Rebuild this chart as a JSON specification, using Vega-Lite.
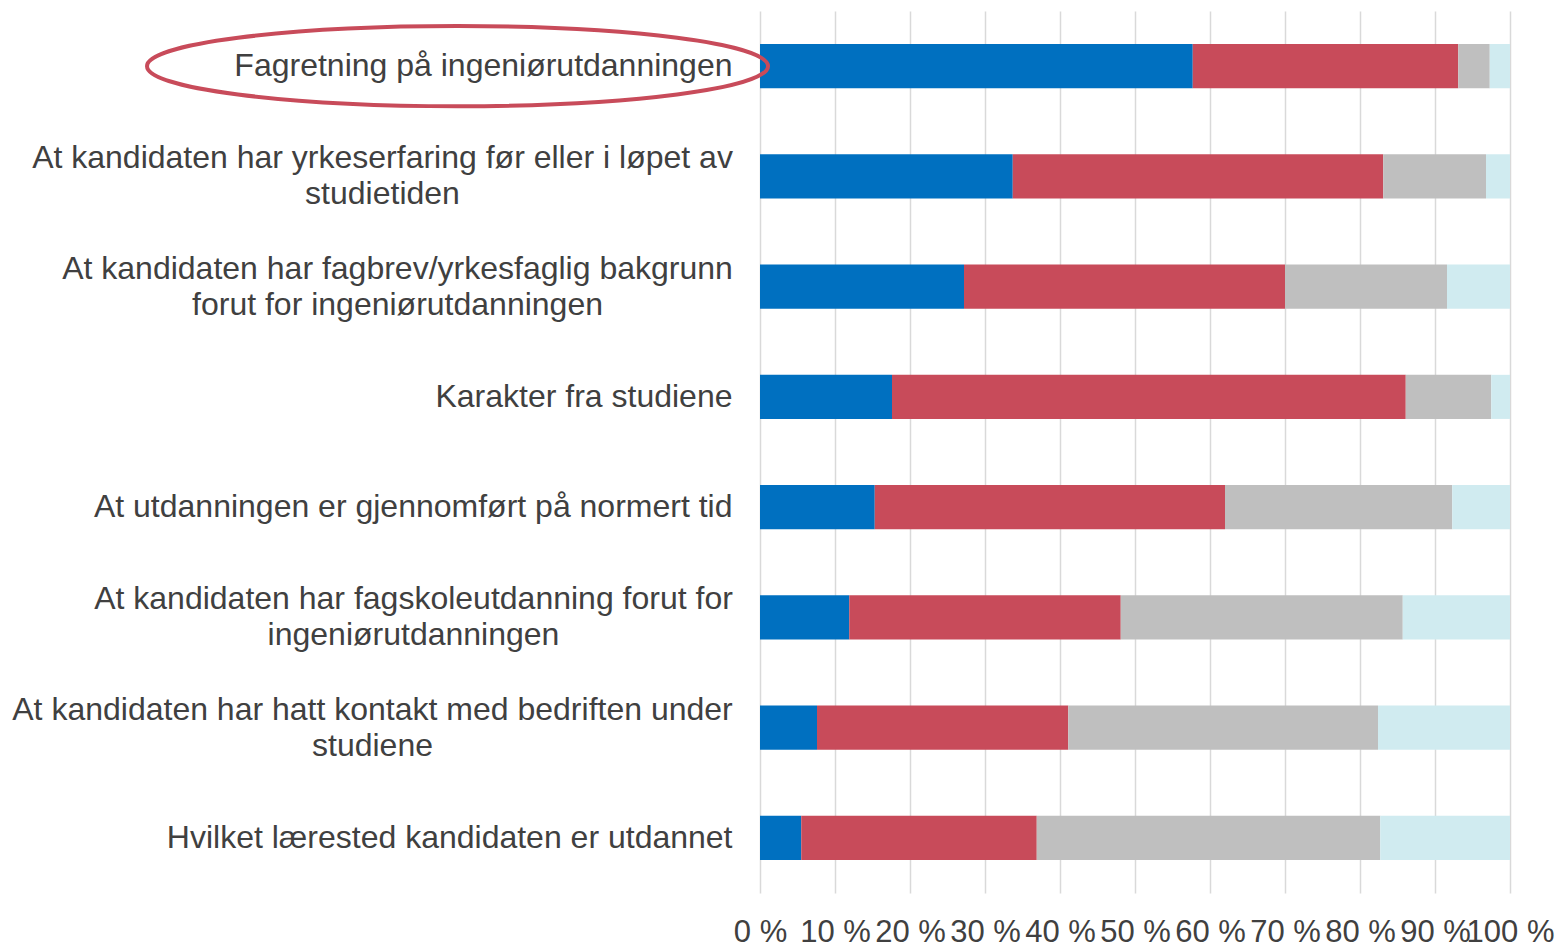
{
  "$schema": "https://vega.github.io/schema/vega-lite/v6.json",
  "width": 750,
  "height": 882,
  "autosize": {"type": "none"},
  "padding": {"left": 760, "top": 11, "right": 49, "bottom": 54},
  "background": "white",
  "config": {
    "view": {"stroke": null},
    "font": "Liberation Sans",
    "axis": {"labelFont": "Liberation Sans", "labelColor": "#404040"}
  },
  "data": {
    "values": [
      {"cat": "Fagretning på ingeniørutdanningen", "seg": "A", "o": 1, "v": 57.7},
      {"cat": "Fagretning på ingeniørutdanningen", "seg": "B", "o": 2, "v": 35.4},
      {"cat": "Fagretning på ingeniørutdanningen", "seg": "C", "o": 3, "v": 4.2},
      {"cat": "Fagretning på ingeniørutdanningen", "seg": "D", "o": 4, "v": 2.7},
      {"cat": "At kandidaten har yrkeserfaring før eller i løpet av|studietiden", "seg": "A", "o": 1, "v": 33.7},
      {"cat": "At kandidaten har yrkeserfaring før eller i løpet av|studietiden", "seg": "B", "o": 2, "v": 49.4},
      {"cat": "At kandidaten har yrkeserfaring før eller i løpet av|studietiden", "seg": "C", "o": 3, "v": 13.7},
      {"cat": "At kandidaten har yrkeserfaring før eller i løpet av|studietiden", "seg": "D", "o": 4, "v": 3.2},
      {"cat": "At kandidaten har fagbrev/yrkesfaglig bakgrunn|forut for ingeniørutdanningen", "seg": "A", "o": 1, "v": 27.2},
      {"cat": "At kandidaten har fagbrev/yrkesfaglig bakgrunn|forut for ingeniørutdanningen", "seg": "B", "o": 2, "v": 42.8},
      {"cat": "At kandidaten har fagbrev/yrkesfaglig bakgrunn|forut for ingeniørutdanningen", "seg": "C", "o": 3, "v": 21.6},
      {"cat": "At kandidaten har fagbrev/yrkesfaglig bakgrunn|forut for ingeniørutdanningen", "seg": "D", "o": 4, "v": 8.4},
      {"cat": "Karakter fra studiene", "seg": "A", "o": 1, "v": 17.6},
      {"cat": "Karakter fra studiene", "seg": "B", "o": 2, "v": 68.5},
      {"cat": "Karakter fra studiene", "seg": "C", "o": 3, "v": 11.4},
      {"cat": "Karakter fra studiene", "seg": "D", "o": 4, "v": 2.5},
      {"cat": "At utdanningen er gjennomført på normert tid", "seg": "A", "o": 1, "v": 15.3},
      {"cat": "At utdanningen er gjennomført på normert tid", "seg": "B", "o": 2, "v": 46.7},
      {"cat": "At utdanningen er gjennomført på normert tid", "seg": "C", "o": 3, "v": 30.3},
      {"cat": "At utdanningen er gjennomført på normert tid", "seg": "D", "o": 4, "v": 7.7},
      {"cat": "At kandidaten har fagskoleutdanning forut for|ingeniørutdanningen", "seg": "A", "o": 1, "v": 11.9},
      {"cat": "At kandidaten har fagskoleutdanning forut for|ingeniørutdanningen", "seg": "B", "o": 2, "v": 36.2},
      {"cat": "At kandidaten har fagskoleutdanning forut for|ingeniørutdanningen", "seg": "C", "o": 3, "v": 37.6},
      {"cat": "At kandidaten har fagskoleutdanning forut for|ingeniørutdanningen", "seg": "D", "o": 4, "v": 14.3},
      {"cat": "At kandidaten har hatt kontakt med bedriften under|studiene", "seg": "A", "o": 1, "v": 7.6},
      {"cat": "At kandidaten har hatt kontakt med bedriften under|studiene", "seg": "B", "o": 2, "v": 33.5},
      {"cat": "At kandidaten har hatt kontakt med bedriften under|studiene", "seg": "C", "o": 3, "v": 41.3},
      {"cat": "At kandidaten har hatt kontakt med bedriften under|studiene", "seg": "D", "o": 4, "v": 17.6},
      {"cat": "Hvilket lærested kandidaten er utdannet", "seg": "A", "o": 1, "v": 5.5},
      {"cat": "Hvilket lærested kandidaten er utdannet", "seg": "B", "o": 2, "v": 31.4},
      {"cat": "Hvilket lærested kandidaten er utdannet", "seg": "C", "o": 3, "v": 45.8},
      {"cat": "Hvilket lærested kandidaten er utdannet", "seg": "D", "o": 4, "v": 17.3}
    ]
  },
  "layer": [
    {
      "mark": {"type": "bar"},
      "encoding": {
        "y": {
          "field": "cat",
          "type": "nominal",
          "sort": null,
          "scale": {"paddingInner": 0.6, "paddingOuter": 0.3},
          "axis": {
            "title": null,
            "domain": false,
            "ticks": false,
            "grid": false,
            "labelFontSize": 32,
            "labelLimit": 0,
            "labelLineHeight": 36,
            "labelAlign": {"condition": {"test": "indexof(datum.value, '|') >= 0", "value": "center"}, "value": "right"},
            "labelPadding": {
              "condition": [
                {"test": "indexof(datum.value, 'yrkeserfaring') >= 0", "value": 378},
                {"test": "indexof(datum.value, 'fagbrev') >= 0", "value": 363},
                {"test": "indexof(datum.value, 'fagskoleutdanning') >= 0", "value": 347},
                {"test": "indexof(datum.value, 'kontakt') >= 0", "value": 388}
              ],
              "value": 28
            },
            "labelOffset": {"condition": {"test": "indexof(datum.value, '|') >= 0", "value": -18}, "value": 0},
            "labelExpr": "split(datum.label, '|')"
          }
        },
        "x": {
          "field": "v",
          "type": "quantitative",
          "stack": "zero",
          "scale": {"domain": [0, 100], "nice": false},
          "axis": {
            "title": null,
            "values": [0, 10, 20, 30, 40, 50, 60, 70, 80, 90, 100],
            "domain": false,
            "ticks": false,
            "grid": true,
            "gridColor": "#D9D9D9",
            "gridWidth": 1.5,
            "labelFontSize": 31,
            "labelPadding": 24,
            "labelFlush": false,
            "labelOverlap": false,
            "labelExpr": "datum.value + ' %'"
          }
        },
        "color": {
          "field": "seg",
          "type": "nominal",
          "scale": {"domain": ["A", "B", "C", "D"], "range": ["#0070C0", "#C84B5A", "#BFBFBF", "#D0EBF0"]},
          "legend": null
        },
        "order": {"field": "o", "type": "quantitative"}
      }
    },
    {
      "transform": [{"filter": "datum.seg === 'A' && indexof(datum.cat, 'Fagretning') === 0"}],
      "mark": {
        "type": "point",
        "shape": "M-1,0A1,0.129 0 1,1 1,0A1,0.129 0 1,1 -1,0",
        "size": 385641,
        "filled": false,
        "stroke": "#C84B5A",
        "strokeWidth": 4,
        "opacity": 1
      },
      "encoding": {
        "y": {"field": "cat", "type": "nominal", "sort": null},
        "x": {"datum": -40.33, "type": "quantitative"}
      }
    }
  ]
}
